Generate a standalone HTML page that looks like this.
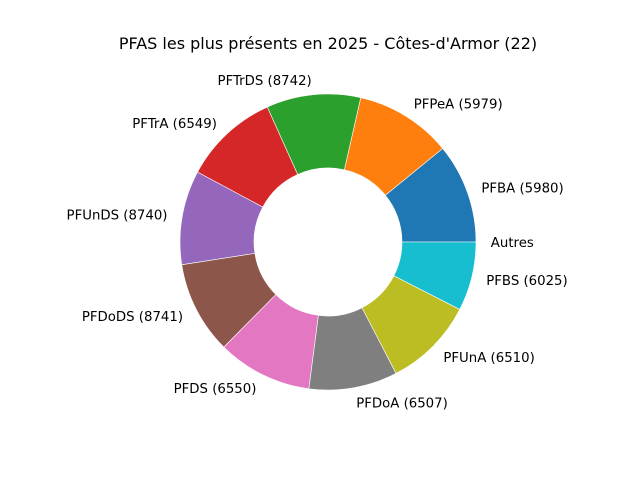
<!DOCTYPE html>
<html><head><meta charset="utf-8"><style>
html,body{margin:0;padding:0;background:#fff;}
svg{display:block;font-family:"DejaVu Sans","Liberation Sans",sans-serif;}
</style></head><body>
<svg id="chart" width="640" height="480" viewBox="0 0 640 480">
<rect width="640" height="480" fill="#fff"/>
<text x="328" y="49" text-anchor="middle" font-size="16" fill="#000">PFAS les plus présents en 2025 - Côtes-d'Armor (22)</text>
<g id="slices"></g>
<g id="labels"></g>
</svg>
<script>
const categories = ["PFBA","PFPeA","PFTrDS","PFTrA","PFUnDS","PFDoDS","PFDS","PFDoA","PFUnA","PFBS","Autres"];
const labelCounts = [5980,5979,8742,6549,8740,8741,6550,6507,6510,6025,null];
const values = [39.2,38.0,37.0,37.6,37.0,36.4,37.3,34.8,35.5,27.1,0];
const colors = ["#1f77b4","#ff7f0e","#2ca02c","#d62728","#9467bd","#8c564b","#e377c2","#7f7f7f","#bcbd22","#17becf","#1f77b4"];

const cx=328, cy=242, R=148, r0=74;
const NS="http://www.w3.org/2000/svg";
const total=values.reduce((a,b)=>a+b,0);
const gS=document.getElementById('slices'), gL=document.getElementById('labels');
function pt(rad,deg){const a=deg*Math.PI/180;return [cx+rad*Math.cos(a), cy-rad*Math.sin(a)];}
let start=0;
values.forEach((v,i)=>{
  const sweep=v/total*360, end=start+sweep, mid=start+sweep/2;
  if(sweep>0){
    const [x1,y1]=pt(R,start),[x2,y2]=pt(R,end),[x3,y3]=pt(r0,end),[x4,y4]=pt(r0,start);
    const large=sweep>180?1:0;
    const p=document.createElementNS(NS,'path');
    p.setAttribute('d',`M${x1},${y1} A${R},${R} 0 ${large} 0 ${x2},${y2} L${x3},${y3} A${r0},${r0} 0 ${large} 1 ${x4},${y4} Z`);
    p.setAttribute('fill',colors[i]);
    p.setAttribute('stroke','#fff');
    p.setAttribute('stroke-width','0.6');
    
    
    gS.appendChild(p);
  }
  const [lx,ly]=pt(R*1.1,mid);
  const t=document.createElementNS(NS,'text');
  t.setAttribute('x',lx);
  t.setAttribute('y',ly+5);
  t.setAttribute('font-size','13.3');
  t.setAttribute('text-anchor',Math.cos(mid*Math.PI/180)>=0?'start':'end');
  t.textContent=labelCounts[i]==null?categories[i]:`${categories[i]} (${labelCounts[i]})`;
  
  
  gL.appendChild(t);
  start=end;
});
</script>
</body></html>
